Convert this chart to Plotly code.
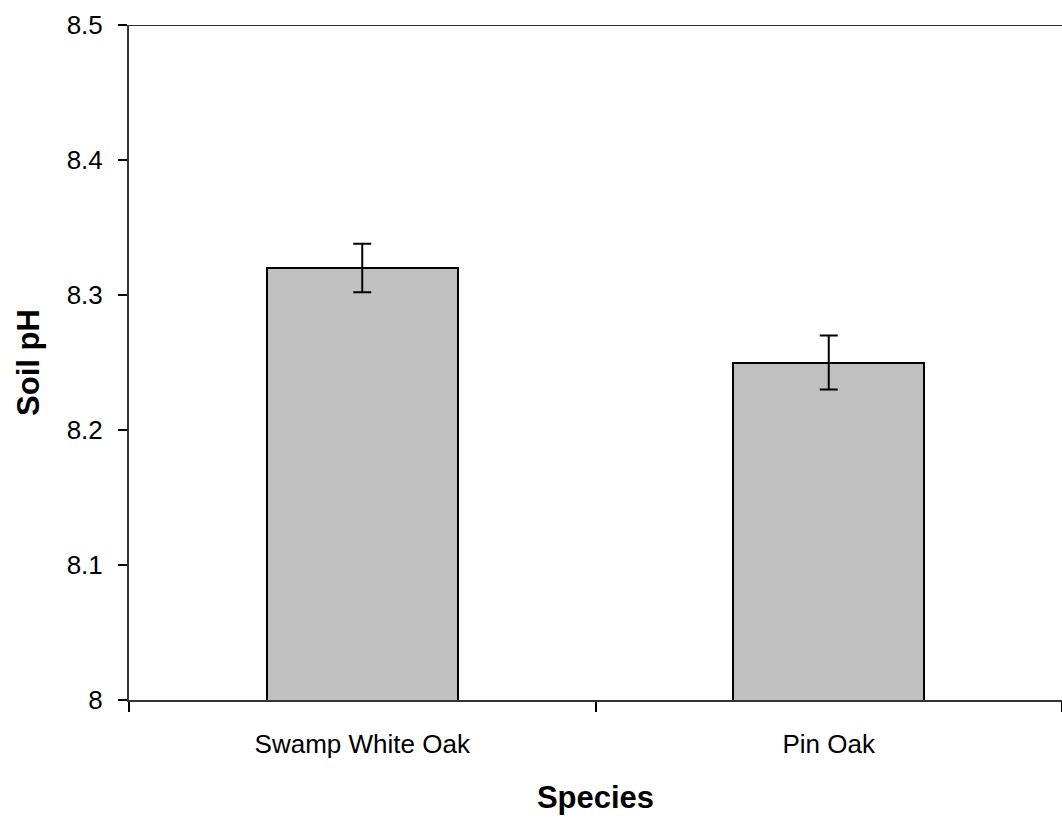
import plotly.graph_objects as go

# Mean soil pH under each oak species, with error bar half-widths
species = ["Swamp White Oak", "Pin Oak"]
soil_ph = [8.32, 8.25]
ph_err = [0.018, 0.02]

y_ticks = [8.0, 8.1, 8.2, 8.3, 8.4, 8.5]
y_tick_text = ["8", "8.1", "8.2", "8.3", "8.4", "8.5"]

font_family = "Liberation Sans, Arial, sans-serif"

fig = go.Figure(
    go.Bar(
        x=species,
        y=soil_ph,
        width=0.41,
        marker=dict(color="#C0C0C0", line=dict(color="#000000", width=2)),
        error_y=dict(type="data", array=ph_err, visible=True,
                     color="#000000", thickness=2, width=9),
    )
)

fig.update_layout(
    width=1062,
    height=821,
    margin=dict(l=129, r=0, t=25, b=121),
    plot_bgcolor="white",
    paper_bgcolor="white",
    showlegend=False,
    font=dict(family=font_family, size=26, color="#000000"),
    bargap=0,
)

fig.update_xaxes(
    type="category",
    range=[-0.5, 1.5],
    tickson="boundaries",
    ticks="outside",
    ticklen=10,
    tickwidth=1.5,
    tickcolor="#000000",
    showline=True,
    linecolor="#333333",
    linewidth=2,
    showgrid=False,
    tickfont=dict(size=26),
    ticklabelstandoff=20,
    title=dict(text="<b>Species</b>", font=dict(size=31), standoff=28),
)

fig.update_yaxes(
    range=[8.0, 8.5],
    tickvals=y_ticks,
    ticktext=y_tick_text,
    ticks="outside",
    ticklen=9,
    tickwidth=1.5,
    tickcolor="#000000",
    showline=True,
    linecolor="#333333",
    linewidth=2,
    showgrid=False,
    zeroline=False,
    tickfont=dict(size=26),
    ticklabelstandoff=10,
    title=dict(text="<b>Soil pH</b>", font=dict(size=31), standoff=18),
)

# Upper border of the plot area
fig.add_shape(type="line", xref="paper", yref="y", x0=0, x1=1, y0=8.5, y1=8.5,
              line=dict(color="#333333", width=2))

fig.write_html("out.html")
